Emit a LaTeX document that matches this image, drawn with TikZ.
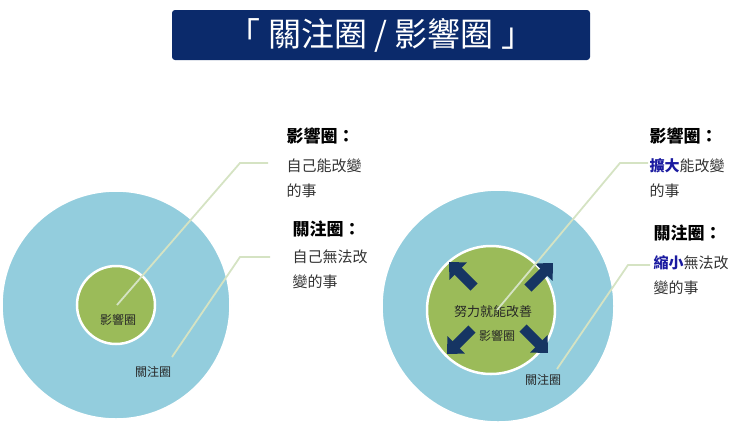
\documentclass[tikz,border=0pt]{standalone}
\usepackage{fontspec}
\setmainfont{Noto Sans CJK TC}
\usetikzlibrary{arrows.meta}
\definecolor{navy}{HTML}{0B2A6B}
\definecolor{arrowc}{HTML}{163563}
\definecolor{bluec}{HTML}{93CDDD}
\definecolor{greenc}{HTML}{9BBB59}
\definecolor{leadc}{HTML}{D5E3C3}
\definecolor{emph}{HTML}{1A1AA0}
\tikzset{
 big/.style={circle,fill=bluec,draw=white,line width=1.5pt},
 small/.style={circle,fill=greenc,draw=white,line width=2.5pt},
 lead/.style={draw=leadc,line width=1.8pt},
 head/.style={anchor=west,font=\fontsize{17}{20}\selectfont\bfseries},
 body/.style={anchor=west,font=\fontsize{15}{18}\selectfont,text=black!80},
 inl/.style={font=\fontsize{12}{14}\selectfont,text=black!85},
 blk/.style={draw=arrowc,line width=10pt,-{Triangle[length=13pt,width=24pt]}}
}
\begin{document}
\begin{tikzpicture}[x=1pt,y=-1pt]
\useasboundingbox (0,0) rectangle (740,432);
\node[fill=navy,rounded corners=3pt,minimum width=418pt,minimum height=50pt,text=white,font=\fontsize{33}{36}\selectfont] (title) at (381,35) {「 關注圈 / 影響圈 」};
% left
\node[big,minimum size=228pt] (lb) at (116,305) {};
\node[small,minimum size=78pt] (ls) at (116,305) {};
\node[inl] (lsl) at (118,320) {影響圈};
\node[inl] (lbl) at (153,372) {關注圈};
\coordinate (la) at (117,305);
\coordinate (lak) at (240,163);
\coordinate (lae) at (268,163);
\coordinate (lb1) at (172,357);
\coordinate (lbk) at (240,257);
\coordinate (lbe) at (270,257);
\draw[lead] (la) -- (lak) -- (lae);
\draw[lead] (lb1) -- (lbk) -- (lbe);
\node[head] (lh1) at (283,136) {影響圈：};
\node[body] (lt1) at (283,166) {自己能改變};
\node[body] (lt2) at (283,191) {的事};
\node[head] (lh2) at (289,229) {關注圈：};
\node[body] (lt3) at (289,257) {自己無法改};
\node[body] (lt4) at (289,282) {變的事};
% right
\node[big,minimum size=232pt] (rb) at (498,306) {};
\node[small,minimum size=128pt] (rs) at (491,310) {};
\coordinate (a1s) at (474,287); \coordinate (a1e) at (449,262);
\coordinate (a2s) at (528,288); \coordinate (a2e) at (553,263);
\coordinate (a3s) at (472,329); \coordinate (a3e) at (447,354);
\coordinate (a4s) at (523,328); \coordinate (a4e) at (548,353);
\draw[blk] (a1s) -- (a1e);
\draw[blk] (a2s) -- (a2e);
\draw[blk] (a3s) -- (a3e);
\draw[blk] (a4s) -- (a4e);
\node[inl,font=\fontsize{13}{15}\selectfont] (rsl1) at (493,312) {努力就能改善};
\node[inl] (rsl2) at (497,336) {影響圈};
\node[inl] (rbl) at (543,380) {關注圈};
\coordinate (ra) at (497,310);
\coordinate (rak) at (620,163);
\coordinate (rae) at (648,163);
\coordinate (rb1) at (557,369);
\coordinate (rbk) at (628,265);
\coordinate (rbe) at (650,265);
\draw[lead] (ra) -- (rak) -- (rae);
\draw[lead] (rb1) -- (rbk) -- (rbe);
\node[head] (rh1) at (646,136) {影響圈：};
\node[body] (rt1) at (646,166) {\textcolor{emph}{\bfseries 擴大}能改變};
\node[body] (rt2) at (646,191) {的事};
\node[head] (rh2) at (650,233) {關注圈：};
\node[body] (rt3) at (650,263) {\textcolor{emph}{\bfseries 縮小}無法改};
\node[body] (rt4) at (650,288) {變的事};
\end{tikzpicture}
\end{document}
